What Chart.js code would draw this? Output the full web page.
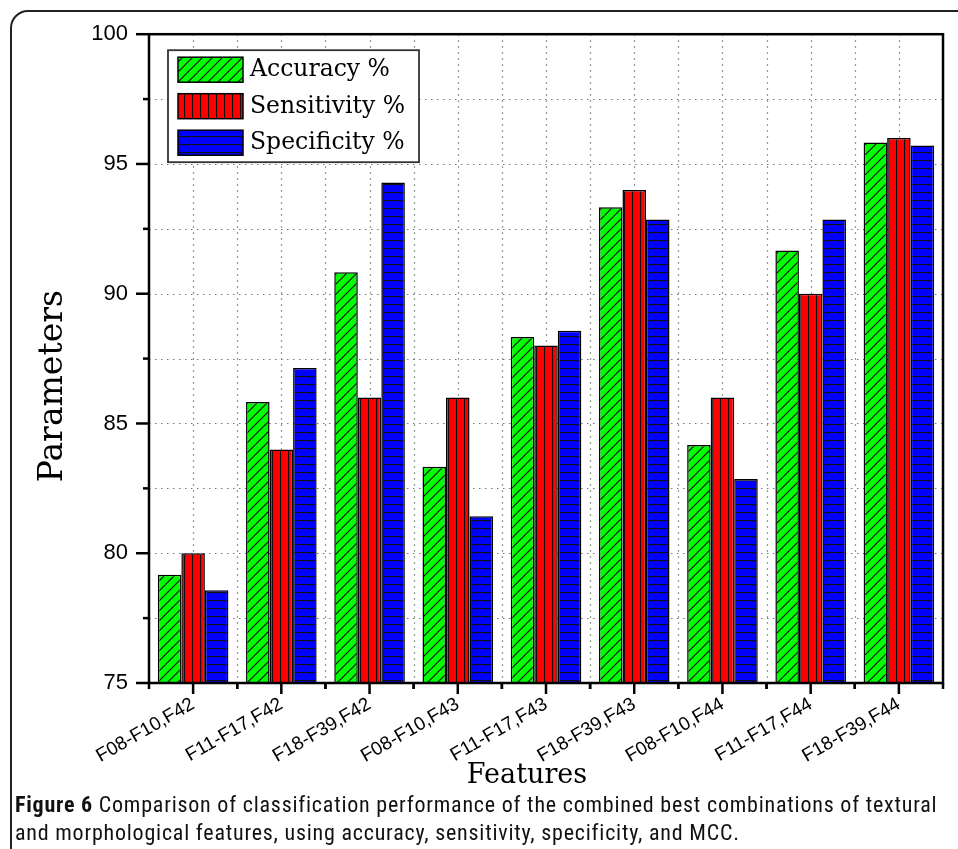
<!DOCTYPE html>
<html>
<head>
<meta charset="utf-8">
<script src="https://cdn.jsdelivr.net/npm/chart.js@4.4.1/dist/chart.umd.min.js"></script>
<style>
  html, body { margin: 0; padding: 0; background: #fff; overflow: hidden; }
  .frame {
    position: absolute; left: 10px; top: 10px; width: 1000px; height: 900px;
    border: 2px solid #222; border-radius: 18px; box-sizing: border-box;
  }
  .wrap { position: absolute; left: 0; top: 0; width: 958px; height: 849px; }
  .caption {
    position: absolute; left: 15px; top: 791px; width: 940px; white-space: nowrap;
    font-family: "Liberation Sans Narrow", "Roboto Condensed", "Liberation Sans", sans-serif;
    font-size: 22px; line-height: 28px; letter-spacing: 0.78px; color: #111;
  }
</style>
</head>
<body>
<div class="frame"></div>
<div class="wrap"><canvas id="chart"></canvas></div>
<div class="caption"><b>Figure 6</b> Comparison of classification performance of the combined best combinations of textural<br>and morphological features, using accuracy, sensitivity, specificity, and MCC.</div>
<script>
const features = ['F08-F10,F42', 'F11-F17,F42', 'F18-F39,F42', 'F08-F10,F43', 'F11-F17,F43',
                  'F18-F39,F43', 'F08-F10,F44', 'F11-F17,F44', 'F18-F39,F44'];
const accuracy = [79.17, 85.83, 90.83, 83.33, 88.33, 93.33, 84.17, 91.67, 95.83];
const sensitivity = [80, 84, 86, 86, 88, 94, 86, 90, 96];
const specificity = [78.57, 87.14, 94.29, 81.43, 88.57, 92.86, 82.86, 92.86, 95.71];
const seriesNames = ['Accuracy %', 'Sensitivity %', 'Specificity %'];
const yMin = 75, yMax = 100, yStep = 2.5, yMajor = 5;

// hatch fills
function makePattern(color, kind) {
  const size = kind === 'diag' ? 10 : 8;
  const c = document.createElement('canvas');
  c.width = size; c.height = size;
  const g = c.getContext('2d');
  g.fillStyle = color;
  g.fillRect(0, 0, size, size);
  g.strokeStyle = '#111';
  g.lineWidth = 1.2;
  g.beginPath();
  if (kind === 'diag') {
    g.moveTo(0, size); g.lineTo(size, 0);
    g.moveTo(-2, 2); g.lineTo(2, -2);
    g.moveTo(size - 2, size + 2); g.lineTo(size + 2, size - 2);
  } else if (kind === 'vert') {
    g.moveTo(0.5, 0); g.lineTo(0.5, size);
  } else {
    g.moveTo(0, 0.5); g.lineTo(size, 0.5);
  }
  g.stroke();
  return g.createPattern(c, 'repeat');
}

const fills = [makePattern('#00ff00', 'diag'), makePattern('#ff0000', 'vert'), makePattern('#0000ff', 'horiz')];

const framePlugin = {
  id: 'framePlugin',
  beforeDatasetsDraw(chart) {
    const { ctx, chartArea: a, scales: { x, y } } = chart;
    ctx.save();
    ctx.strokeStyle = '#777';
    ctx.lineWidth = 1.2;
    ctx.setLineDash([1.5, 4.5]);
    y.ticks.forEach(t => {
      const py = Math.round(y.getPixelForValue(t.value)) + 0.5;
      ctx.beginPath(); ctx.moveTo(a.left, py); ctx.lineTo(a.right, py); ctx.stroke();
    });
    const half = (x.getPixelForTick(1) - x.getPixelForTick(0)) / 2;
    features.forEach((f, i) => {
      const cx = x.getPixelForTick(i);
      [cx, cx + half].forEach(px => {
        px = Math.round(px) + 0.5;
        ctx.beginPath(); ctx.moveTo(px, a.top); ctx.lineTo(px, a.bottom); ctx.stroke();
      });
    });
    ctx.restore();
  },
  afterDatasetsDraw(chart) {
    const { ctx, chartArea: a, scales: { x, y } } = chart;
    ctx.save();
    ctx.strokeStyle = '#000';
    ctx.lineWidth = 2.5;
    ctx.strokeRect(a.left, a.top, a.right - a.left, a.bottom - a.top);
    y.ticks.forEach(t => {
      const py = y.getPixelForValue(t.value);
      const len = t.value % yMajor === 0 ? 13 : 6;
      ctx.beginPath(); ctx.moveTo(a.left - len, py); ctx.lineTo(a.left, py); ctx.stroke();
    });
    const half = (x.getPixelForTick(1) - x.getPixelForTick(0)) / 2;
    features.forEach((f, i) => {
      const cx = x.getPixelForTick(i);
      ctx.beginPath(); ctx.moveTo(cx, a.bottom); ctx.lineTo(cx, a.bottom + 11); ctx.stroke();
      [cx - half, cx + half].forEach(px => {
        ctx.beginPath(); ctx.moveTo(px, a.bottom); ctx.lineTo(px, a.bottom + 6); ctx.stroke();
      });
    });

    // legend box
    const lx = a.left + 19, ly = a.top + 16, lw = 251, lh = 112;
    ctx.fillStyle = '#fff';
    ctx.fillRect(lx, ly, lw, lh);
    ctx.lineWidth = 1.8;
    ctx.strokeStyle = '#333';
    ctx.strokeRect(lx, ly, lw, lh);
    ctx.font = '23.5px "DejaVu Serif"';
    ctx.textBaseline = 'middle';
    ctx.textAlign = 'left';
    chart.data.datasets.forEach((ds, i) => {
      const sy = ly + 7 + i * 36.5;
      ctx.fillStyle = ds.backgroundColor;
      ctx.fillRect(lx + 10, sy, 65, 25);
      ctx.lineWidth = 1.5;
      ctx.strokeStyle = '#000';
      ctx.strokeRect(lx + 10, sy, 65, 25);
      ctx.fillStyle = '#000';
      ctx.fillText(ds.label, lx + 82, sy + 13);
    });

    // axis titles
    ctx.fillStyle = '#000';
    ctx.textAlign = 'center';
    ctx.textBaseline = 'alphabetic';
    ctx.font = '27px "DejaVu Serif"';
    ctx.fillText('Features', a.left + 378, a.bottom + 100);
    ctx.font = '33px "DejaVu Serif"';
    ctx.translate(a.left - 87, a.top + 352);
    ctx.rotate(-Math.PI / 2);
    ctx.fillText('Parameters', 0, 0);
    ctx.restore();
  }
};

const ctx = document.getElementById('chart');
new Chart(ctx, {
  type: 'bar',
  data: {
    labels: features,
    datasets: [
      { label: seriesNames[0], data: accuracy, backgroundColor: fills[0] },
      { label: seriesNames[1], data: sensitivity, backgroundColor: fills[1] },
      { label: seriesNames[2], data: specificity, backgroundColor: fills[2] }
    ]
  },
  options: {
    responsive: true,
    maintainAspectRatio: false,
    animation: false,
    layout: { padding: { top: 34, right: 15, left: 0, bottom: 0 } },
    datasets: {
      bar: {
        borderColor: '#000',
        borderWidth: 1.5,
        categoryPercentage: 0.8,
        barPercentage: 1.0
      }
    },
    plugins: {
      legend: { display: false },
      tooltip: { enabled: false }
    },
    scales: {
      x: {
        grid: { display: false, drawTicks: false },
        border: { display: false },
        ticks: {
          autoSkip: false,
          minRotation: 30,
          maxRotation: 30,
          padding: 10,
          color: '#000',
          font: { family: '"Liberation Sans", Arial, sans-serif', size: 19 }
        },
        afterFit: s => { s.height = 166; }
      },
      y: {
        min: yMin,
        max: yMax,
        grid: { display: false, drawTicks: false },
        border: { display: false },
        ticks: {
          stepSize: yStep,
          autoSkip: false,
          padding: 21,
          color: '#000',
          font: { family: '"Liberation Sans", Arial, sans-serif', size: 22 },
          callback: v => (v % yMajor === 0 ? v : '')
        },
        afterFit: s => { s.width = 149; }
      }
    }
  },
  plugins: [framePlugin]
});
</script>
</body>
</html>
